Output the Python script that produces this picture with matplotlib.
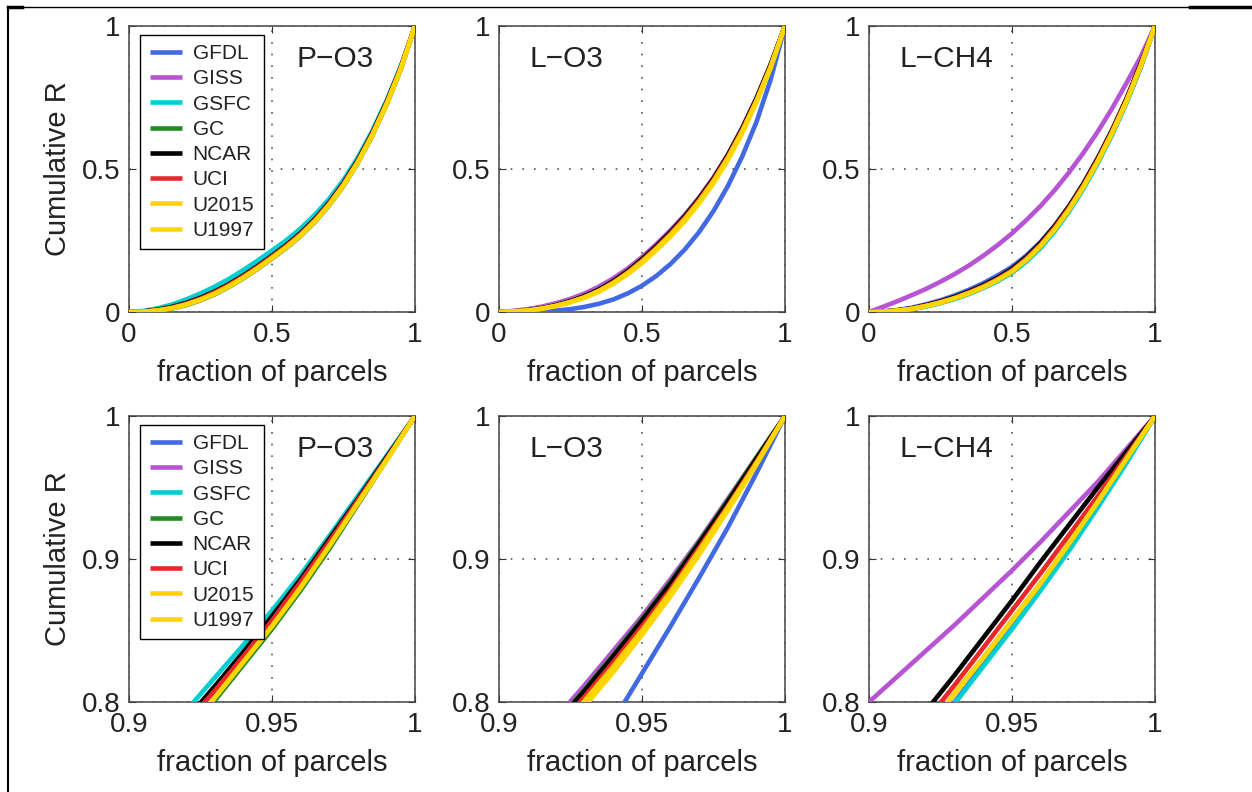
import matplotlib
matplotlib.use('Agg')
from matplotlib import pyplot as plt
from matplotlib.lines import Line2D

# x grids (fraction of parcels)
X_FULL = [0.00, 0.05, 0.10, 0.15, 0.20, 0.25, 0.30, 0.35, 0.40, 0.45, 0.50,
          0.55, 0.60, 0.65, 0.70, 0.75, 0.80, 0.85, 0.90, 0.95, 1.00]
X_ZOOM = [0.90, 0.91, 0.92, 0.93, 0.94, 0.95, 0.96, 0.97, 0.98, 0.99, 1.00]

MODELS = ['GFDL', 'GISS', 'GSFC', 'GC', 'NCAR', 'UCI', 'U2015', 'U1997']
COLORS = ['#4169E1', '#B654D4', '#00CED1', '#228B22', '#000000', '#E8282B', '#FFD200', '#FFD700']
PANELS = ['P\u2212O3', 'L\u2212O3', 'L\u2212CH4']

# cumulative R, full range
PO3_FULL = {
    'GFDL':  [0, .002, .007, .016, .029, .047, .069, .095, .125, .158, .194, .231, .273, .322, .380, .448, .528, .622, .730, .852, 1.0],
    'GISS':  [0, .002, .007, .016, .029, .047, .069, .095, .125, .158, .194, .231, .273, .322, .380, .448, .528, .622, .730, .852, 1.0],
    'GSFC':  [0, .004, .013, .026, .044, .065, .089, .116, .147, .180, .215, .251, .292, .340, .396, .462, .540, .632, .738, .858, 1.0],
    'GC':    [0, .001, .005, .012, .024, .041, .062, .088, .118, .151, .187, .224, .266, .315, .373, .441, .521, .615, .723, .847, 1.0],
    'NCAR':  [0, .002, .008, .018, .032, .050, .072, .098, .128, .161, .197, .234, .276, .325, .383, .451, .531, .625, .733, .855, 1.0],
    'UCI':   [0, .002, .007, .016, .029, .047, .069, .095, .125, .158, .194, .231, .273, .322, .380, .448, .528, .622, .730, .852, 1.0],
    'U2015': [0, .001, .005, .013, .026, .043, .064, .090, .120, .153, .189, .226, .268, .317, .375, .443, .523, .617, .725, .849, 1.0],
    'U1997': [0, .001, .005, .013, .026, .043, .064, .090, .120, .153, .189, .226, .268, .317, .375, .443, .523, .617, .725, .849, 1.0],
}
LO3_FULL = {
    'GFDL':  [0, 0, .001, .002, .005, .010, .018, .029, .044, .065, .092, .126, .168, .219, .280, .353, .440, .543, .664, .813, 1.0],
    'GISS':  [0, .004, .010, .019, .031, .046, .065, .089, .118, .152, .192, .237, .286, .340, .401, .470, .550, .643, .748, .866, 1.0],
    'GSFC':  [0, .002, .006, .013, .024, .038, .056, .078, .107, .142, .183, .229, .279, .334, .396, .466, .547, .640, .745, .864, 1.0],
    'GC':    [0, .002, .006, .013, .024, .038, .056, .079, .108, .143, .184, .230, .280, .335, .397, .467, .548, .641, .746, .865, 1.0],
    'NCAR':  [0, .002, .006, .013, .024, .038, .056, .079, .108, .143, .184, .230, .280, .335, .397, .467, .548, .641, .746, .865, 1.0],
    'UCI':   [0, .002, .005, .012, .022, .036, .053, .075, .104, .139, .179, .225, .275, .330, .392, .462, .543, .636, .741, .861, 1.0],
    'U2015': [0, .002, .005, .012, .022, .035, .052, .074, .102, .136, .176, .221, .270, .325, .387, .457, .538, .631, .737, .858, 1.0],
    'U1997': [0, .002, .005, .011, .021, .034, .050, .071, .099, .132, .171, .216, .264, .318, .380, .450, .531, .625, .732, .854, 1.0],
}
LCH4_FULL = {
    'GFDL':  [0, .002, .007, .015, .027, .041, .058, .078, .101, .128, .158, .197, .245, .302, .368, .444, .530, .626, .733, .855, 1.0],
    'GISS':  [0, .0185, .038, .059, .081, .106, .133, .163, .197, .234, .275, .321, .371, .427, .489, .557, .631, .712, .800, .892, 1.0],
    'GSFC':  [0, .001, .004, .010, .019, .031, .045, .063, .084, .108, .137, .176, .224, .283, .352, .431, .520, .619, .730, .855, 1.0],
    'GC':    [0, .001, .005, .011, .021, .033, .048, .066, .087, .112, .142, .182, .231, .290, .359, .438, .527, .626, .736, .860, 1.0],
    'NCAR':  [0, .002, .006, .013, .024, .037, .053, .072, .094, .120, .151, .192, .242, .302, .371, .450, .539, .637, .746, .869, 1.0],
    'UCI':   [0, .001, .005, .012, .022, .035, .050, .069, .090, .116, .146, .187, .236, .296, .365, .444, .533, .632, .741, .865, 1.0],
    'U2015': [0, .001, .005, .011, .021, .033, .048, .066, .087, .112, .142, .182, .231, .290, .359, .438, .527, .626, .736, .860, 1.0],
    'U1997': [0, .001, .005, .011, .021, .033, .048, .066, .087, .112, .142, .182, .231, .290, .359, .438, .527, .626, .736, .860, 1.0],
}

# cumulative R, top 10% of parcels
PO3_ZOOM = {
    'GFDL':  [.739, .762, .785, .808, .832, .857, .884, .912, .941, .970, 1.0],
    'GISS':  [.739, .762, .785, .808, .832, .857, .884, .912, .941, .970, 1.0],
    'GSFC':  [.748, .771, .794, .817, .840, .864, .889, .916, .944, .972, 1.0],
    'GC':    [.731, .754, .777, .801, .826, .851, .878, .907, .938, .969, 1.0],
    'NCAR':  [.742, .765, .788, .811, .835, .860, .886, .914, .942, .971, 1.0],
    'UCI':   [.739, .762, .785, .808, .832, .857, .884, .912, .941, .970, 1.0],
    'U2015': [.734, .757, .780, .803, .828, .853, .880, .909, .939, .969, 1.0],
    'U1997': [.734, .757, .780, .803, .828, .853, .880, .909, .939, .969, 1.0],
}
LO3_ZOOM = {
    'GFDL':  [.668, .697, .726, .756, .787, .820, .853, .887, .922, .960, 1.0],
    'GISS':  [.745, .767, .789, .812, .836, .860, .886, .913, .942, .971, 1.0],
    'GSFC':  [.740, .762, .784, .807, .831, .856, .882, .910, .939, .969, 1.0],
    'GC':    [.742, .764, .786, .809, .833, .858, .884, .912, .941, .971, 1.0],
    'NCAR':  [.741, .763, .785, .808, .832, .857, .883, .911, .940, .970, 1.0],
    'UCI':   [.737, .759, .781, .804, .828, .853, .879, .908, .937, .968, 1.0],
    'U2015': [.734, .756, .778, .801, .825, .850, .877, .906, .936, .967, 1.0],
    'U1997': [.730, .752, .774, .797, .821, .847, .874, .903, .934, .966, 1.0],
}
LCH4_ZOOM = {
    'GFDL':  [.728, .752, .776, .800, .826, .852, .879, .907, .937, .968, 1.0],
    'GISS':  [.800, .818, .836, .854, .873, .892, .912, .933, .954, .977, 1.0],
    'GSFC':  [.727, .751, .775, .799, .825, .851, .878, .906, .936, .967, 1.0],
    'GC':    [.733, .757, .781, .806, .831, .857, .883, .911, .940, .970, 1.0],
    'NCAR':  [.745, .770, .794, .819, .845, .871, .898, .924, .950, .975, 1.0],
    'UCI':   [.739, .763, .787, .812, .838, .864, .890, .917, .944, .972, 1.0],
    'U2015': [.733, .757, .781, .806, .831, .857, .883, .911, .940, .970, 1.0],
    'U1997': [.733, .757, .781, .806, .831, .857, .883, .911, .940, .970, 1.0],
}

TOP_TICKS = [0, 0.5, 1]
TOP_LABELS = ['0', '0.5', '1']
ZOOM_XTICKS = [0.9, 0.95, 1]
ZOOM_XLABELS = ['0.9', '0.95', '1']
ZOOM_YTICKS = [0.8, 0.9, 1]
ZOOM_YLABELS = ['0.8', '0.9', '1']

TEXT_COLOR = '#222222'


def style_axes(ax, xticks, xlabels, yticks, ylabels, xlim, ylim):
    ax.set_xlim(xlim)
    ax.set_ylim(ylim)
    ax.set_xticks(xticks)
    ax.set_xticklabels(xlabels)
    ax.set_yticks(yticks)
    ax.set_yticklabels(ylabels)
    ax.tick_params(direction='in', length=5, width=0.8, top=True, right=True,
                   colors='#333333', labelcolor=TEXT_COLOR, labelsize=20)
    ax.tick_params(axis='x', pad=7)
    ax.tick_params(axis='y', pad=6)
    for sp in ax.spines.values():
        sp.set_color('#444444')
        sp.set_linewidth(1.1)
    ax.grid(True, color='#555555', linestyle=(0, (1, 6)), linewidth=1.2)
    ax.set_xlabel('fraction of parcels', fontsize=21, color=TEXT_COLOR, labelpad=8)


def main():
    plt.rcParams['font.family'] = ['Liberation Sans', 'DejaVu Sans']
    fig = plt.figure(figsize=(12.52, 7.92), dpi=100)

    lefts = [129 / 1252, 499 / 1252, 869 / 1252]
    w = 286 / 1252
    h = 286 / 792
    bottoms = [1 - 312 / 792, 1 - 702 / 792]

    full_sets = [PO3_FULL, LO3_FULL, LCH4_FULL]
    zoom_sets = [PO3_ZOOM, LO3_ZOOM, LCH4_ZOOM]

    for row in range(2):
        for col in range(3):
            ax = fig.add_axes([lefts[col], bottoms[row], w, h])
            if row == 0:
                data, xs = full_sets[col], X_FULL
                style_axes(ax, TOP_TICKS, TOP_LABELS, TOP_TICKS, TOP_LABELS, (0, 1), (0, 1))
            else:
                data, xs = zoom_sets[col], X_ZOOM
                style_axes(ax, ZOOM_XTICKS, ZOOM_XLABELS, ZOOM_YTICKS, ZOOM_YLABELS, (0.9, 1), (0.8, 1))

            for name, color in zip(MODELS, COLORS):
                ax.plot(xs, data[name], color=color, lw=3.3, label=name,
                        solid_capstyle='butt', zorder=3)

            if col == 0:
                ax.text(0.587, 0.885, PANELS[col], transform=ax.transAxes,
                        fontsize=21.5, color=TEXT_COLOR, ha='left', va='center')
                ax.set_ylabel('Cumulative R', fontsize=21, color=TEXT_COLOR, labelpad=7)
                leg = ax.legend(loc='upper left', bbox_to_anchor=(0.04, 0.969),
                                fontsize=15, frameon=True, fancybox=False,
                                handlelength=1.55, handletextpad=0.5,
                                labelspacing=0.3, borderpad=0.45, borderaxespad=0)
                leg.get_frame().set_edgecolor('black')
                leg.get_frame().set_linewidth(1.0)
                leg.get_frame().set_alpha(1)
                leg.set_zorder(5)
                for t in leg.get_texts():
                    t.set_color(TEXT_COLOR)
            else:
                ax.text(0.105, 0.885, PANELS[col], transform=ax.transAxes,
                        fontsize=21.5, color=TEXT_COLOR, ha='left', va='center')

    # frame left over from the page
    fig.add_artist(Line2D([8 / 1252, 1190 / 1252], [1 - 7 / 792, 1 - 7 / 792],
                          transform=fig.transFigure, color='black', lw=1.0))
    fig.add_artist(Line2D([1190 / 1252, 1], [1 - 7 / 792, 1 - 7 / 792],
                          transform=fig.transFigure, color='black', lw=2.5))
    fig.add_artist(Line2D([8 / 1252, 22 / 1252], [1 - 7 / 792, 1 - 7 / 792],
                          transform=fig.transFigure, color='black', lw=2.5))
    fig.add_artist(Line2D([8 / 1252, 8 / 1252], [0, 1 - 7 / 792],
                          transform=fig.transFigure, color='black', lw=1.5))

    fig.savefig('out.png', dpi=100, facecolor='white')


if __name__ == '__main__':
    main()
